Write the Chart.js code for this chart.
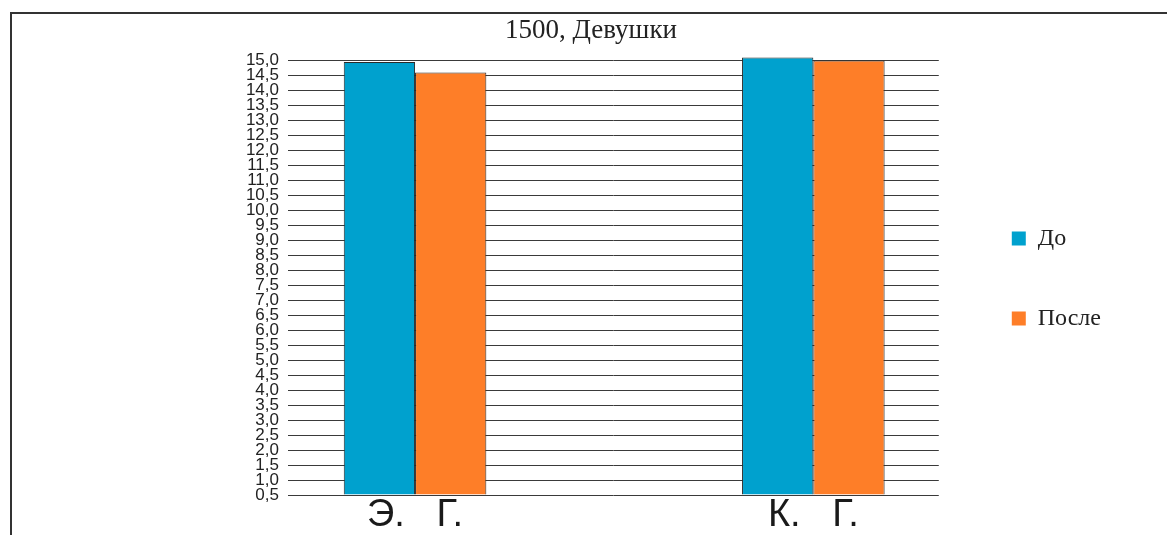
<!DOCTYPE html>
<html>
<head>
<meta charset="utf-8">
<script src="https://cdn.jsdelivr.net/npm/chart.js@4.4.1/dist/chart.umd.min.js"></script>
<style>
  html, body { margin: 0; padding: 0; background: #fff; overflow: hidden; }
  #wrap { position: absolute; left: 0; top: 0; width: 1167px; height: 535px; }
  #frame { position: absolute; left: 10px; top: 12px; width: 1300px; height: 700px;
           border-left: 2px solid #333; border-top: 2px solid #333; pointer-events: none; }
</style>
</head>
<body>
<div id="wrap"><canvas id="c" width="1167" height="535"></canvas></div>
<div id="frame"></div>
<script>
const titleText = '1500, Девушки';
const categories = ['Э.   Г.', 'К.   Г.'];
const categoryPositions = [1, 2];
const seriesNames = ['До', 'После'];
const valuesBefore = [14.95, 15.1];
const valuesAfter = [14.6, 15.0];
const yMin = 0.5, yMax = 15.0, yStep = 0.5;
const colors = ['#00A1CE', '#FE7E28'];

const toPoints = vals => vals.map((v, i) => ({ x: categoryPositions[i], y: v }));

const barCommon = {
  borderColor: '#2a2a2a', borderWidth: 1, base: yMin,
  clip: { left: false, right: false, top: false, bottom: 0 },
  barPercentage: 1.0, categoryPercentage: 0.358
};

new Chart(document.getElementById('c'), {
  type: 'bar',
  data: {
    datasets: [
      Object.assign({ label: seriesNames[0], data: toPoints(valuesBefore), backgroundColor: colors[0] }, barCommon),
      Object.assign({ label: seriesNames[1], data: toPoints(valuesAfter), backgroundColor: colors[1] }, barCommon)
    ]
  },
  options: {
    responsive: false,
    animation: false,
    events: [],
    layout: { padding: { left: 71, right: 56, top: 0, bottom: 0 } },
    plugins: {
      title: {
        display: true, text: titleText, color: '#222',
        font: { family: '"Liberation Serif", "Times New Roman", serif', size: 27, weight: 'normal' },
        padding: { top: 15, bottom: 13 }
      },
      legend: {
        display: true, position: 'right', align: 'center',
        title: { display: true, text: '', font: { size: 10, lineHeight: 1 }, padding: { top: 6, bottom: 6 } },
        labels: {
          color: '#222', boxWidth: 14, boxHeight: 14, padding: 56,
          font: { family: '"Liberation Serif", "Times New Roman", serif', size: 24 },
          generateLabels: chart => Chart.defaults.plugins.legend.labels.generateLabels(chart)
            .map(l => Object.assign(l, { lineWidth: 0, strokeStyle: 'rgba(0,0,0,0)' }))
        }
      },
      tooltip: { enabled: false }
    },
    scales: {
      x: {
        type: 'linear', min: 0.681, max: 2.315, offset: false,
        afterBuildTicks: s => { s.ticks = categoryPositions.map(v => ({ value: v })); },
        grid: { display: false, drawTicks: false },
        border: { display: false },
        ticks: {
          autoSkip: false, maxRotation: 0, padding: 0, color: '#1a1a1a',
          font: { family: '"Liberation Sans", Arial, sans-serif', size: 38, lineHeight: 1.05 },
          callback: v => { const i = categoryPositions.indexOf(v); return i >= 0 ? categories[i] : ''; }
        }
      },
      y: {
        min: yMin, max: yMax,
        afterFit: s => { s.width = 217; },
        grid: { color: '#3a3a3a', lineWidth: 1, drawTicks: false },
        border: { display: false },
        ticks: {
          stepSize: yStep, padding: 9, color: '#222', autoSkip: false,
          font: { family: '"Liberation Sans", Arial, sans-serif', size: 17 },
          callback: v => v.toFixed(1).replace('.', ',')
        }
      },
      y2: {
        position: 'right', display: true,
        afterFit: s => { s.width = 17; },
        grid: { display: false, drawTicks: false },
        border: { display: false },
        ticks: { display: false }
      }
    }
  }
});
</script>
</body>
</html>
